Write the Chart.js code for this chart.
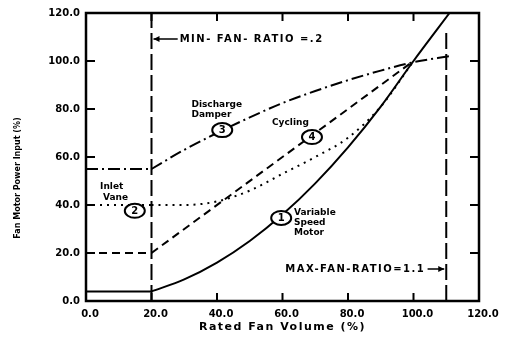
<!DOCTYPE html>
<html>
<head>
<meta charset="utf-8">
<script src="https://cdn.jsdelivr.net/npm/chart.js@4/dist/chart.umd.min.js"></script>
<style>
  html, body { margin: 0; padding: 0; background: #fff; }
</style>
</head>
<body>
<canvas id="chart" width="505" height="337"></canvas>
<script>
// fan volume (%) -> fan motor power input (%)
const lowFlowX = [0, 20];               // below MIN-FAN-RATIO every method stays at its x=20 value
const speedX   = [20, 30, 40, 50, 60, 70, 80, 90, 100, 111];
const speedY   = [4, 9, 16, 25, 36, 49, 64, 81, 100, 120];
const inletX   = [20, 30, 40, 50, 60, 70, 80, 90, 100];
const inletY   = [40, 40, 41.5, 46, 53, 60, 68, 81, 100];
const damperX  = [20, 30, 40, 50, 60, 70, 80, 90, 100, 111];
const damperY  = [55, 63, 70, 76.5, 82.5, 87.5, 92, 96, 99.5, 102];
const cyclingX = [20, 100];
const cyclingY = [20, 100];
const ratioLimits = [20, 110];          // MIN-FAN-RATIO = .2, MAX-FAN-RATIO = 1.1
const xTicks = [0, 20, 40, 60, 80, 100, 120];
const yTicks = [0, 20, 40, 60, 80, 100, 120];

const pts = (xs, ys) => xs.map((v, i) => ({ x: v, y: ys[i] }));
const flat = (ys) => lowFlowX.map(v => ({ x: v, y: ys[0] }));

const FONT = '"DejaVu Sans", sans-serif';

function series(data, dash, curved) {
    return {
        data: data,
        showLine: true,
        borderColor: '#000',
        borderWidth: 2,
        borderDash: dash,
        pointRadius: 0,
        fill: false,
        tension: curved ? 0.4 : 0,
        cubicInterpolationMode: curved ? 'monotone' : 'default'
    };
}

const datasets = [
    series(flat(speedY), [], false),
    series(pts(speedX, speedY), [], true),
    series(flat(inletY), [2, 5], false),
    series(pts(inletX, inletY), [2, 5], true),
    series(flat(damperY), [12, 4, 2, 4], false),
    series(pts(damperX, damperY), [12, 4, 2, 4], true),
    series(flat(cyclingY), [8, 5], false),
    series(pts(cyclingX, cyclingY), [8, 5], false),
    series([{ x: ratioLimits[0], y: 0 }, { x: ratioLimits[0], y: 120 }], [16, 5], false),
    series([{ x: ratioLimits[1], y: 0 }, { x: ratioLimits[1], y: 112 }], [16, 5], false)
];

// circled curve numbers and text notes, placed in data units
const callouts = [
    { n: '1', x: 59.6, y: 34.6 },
    { n: '2', x: 14.9, y: 37.6 },
    { n: '3', x: 41.6, y: 71.2 },
    { n: '4', x: 69, y: 68.3 }
];
const notes = [
    { t: 'Discharge', x: 32.2, y: 82 },
    { t: 'Damper', x: 32.2, y: 77.7 },
    { t: 'Cycling', x: 56.8, y: 74.2 },
    { t: 'Inlet', x: 4.3, y: 47.5 },
    { t: 'Vane', x: 5.2, y: 42.9 },
    { t: 'Variable', x: 63.5, y: 36.7 },
    { t: 'Speed', x: 63.5, y: 32.5 },
    { t: 'Motor', x: 63.5, y: 28.3 }
];

const decorate = {
    id: 'decorate',
    afterDraw(chart) {
        const { ctx, chartArea: a, scales: { x, y } } = chart;
        ctx.save();
        ctx.strokeStyle = '#000';
        ctx.fillStyle = '#000';
        ctx.setLineDash([]);

        // frame
        ctx.lineWidth = 2.5;
        ctx.strokeRect(a.left, a.top, a.right - a.left, a.bottom - a.top);

        // inward tick marks on all four sides
        ctx.lineWidth = 2;
        ctx.beginPath();
        xTicks.slice(1, -1).forEach(v => {
            const px = x.getPixelForValue(v);
            ctx.moveTo(px, a.bottom); ctx.lineTo(px, a.bottom - 8);
            ctx.moveTo(px, a.top); ctx.lineTo(px, a.top + 8);
        });
        yTicks.slice(1, -1).forEach(v => {
            const py = y.getPixelForValue(v);
            ctx.moveTo(a.left, py); ctx.lineTo(a.left + 9, py);
            ctx.moveTo(a.right, py); ctx.lineTo(a.right - 9, py);
        });
        ctx.stroke();

        // notes
        ctx.font = 'bold 9px ' + FONT;
        ctx.textAlign = 'left';
        ctx.textBaseline = 'middle';
        notes.forEach(n => ctx.fillText(n.t, x.getPixelForValue(n.x), y.getPixelForValue(n.y)));

        // circled numbers
        callouts.forEach(c => {
            const cx = x.getPixelForValue(c.x), cy = y.getPixelForValue(c.y);
            ctx.beginPath();
            ctx.ellipse(cx, cy, 10, 7, 0, 0, Math.PI * 2);
            ctx.fillStyle = '#fff';
            ctx.fill();
            ctx.lineWidth = 2;
            ctx.stroke();
            ctx.fillStyle = '#000';
            ctx.textAlign = 'center';
            ctx.font = 'bold 10px ' + FONT;
            ctx.fillText(c.n, cx, cy + 0.5);
        });

        // MIN / MAX fan ratio labels with arrows to the limit lines
        ctx.font = 'bold 10px ' + FONT;
        ctx.letterSpacing = '1.5px';
        const minX = x.getPixelForValue(ratioLimits[0]);
        const maxX = x.getPixelForValue(ratioLimits[1]);
        const minY = y.getPixelForValue(109.2);
        const maxY = y.getPixelForValue(13.3);
        ctx.textAlign = 'left';
        ctx.fillText('MIN- FAN- RATIO =.2', x.getPixelForValue(28.6), minY);
        ctx.textAlign = 'right';
        ctx.fillText('MAX-FAN-RATIO=1.1', x.getPixelForValue(103.6), maxY);
        ctx.letterSpacing = '0px';

        ctx.lineWidth = 1.5;
        ctx.beginPath();
        ctx.moveTo(minX + 2, minY); ctx.lineTo(x.getPixelForValue(28), minY);
        ctx.moveTo(x.getPixelForValue(104.3), maxY); ctx.lineTo(maxX - 2, maxY);
        ctx.stroke();
        ctx.beginPath();
        ctx.moveTo(minX + 2, minY); ctx.lineTo(minX + 8, minY - 3); ctx.lineTo(minX + 8, minY + 3);
        ctx.closePath();
        ctx.moveTo(maxX - 2, maxY); ctx.lineTo(maxX - 8, maxY - 3); ctx.lineTo(maxX - 8, maxY + 3);
        ctx.closePath();
        ctx.fill();

        // axis titles
        ctx.textAlign = 'center';
        ctx.font = 'bold 11px ' + FONT;
        ctx.letterSpacing = '1.5px';
        ctx.fillText('Rated Fan Volume (%)', (a.left + a.right) / 2, 327);
        ctx.letterSpacing = '0px';
        ctx.translate(18, 178);
        ctx.rotate(-Math.PI / 2);
        ctx.font = 'bold 8px ' + FONT;
        ctx.fillText('Fan Motor Power Input (%)', 0, 0);
        ctx.restore();
    }
};

new Chart(document.getElementById('chart'), {
    type: 'scatter',
    data: { datasets: datasets },
    options: {
        responsive: false,
        animation: false,
        layout: { padding: { top: 13, right: 26, left: 0, bottom: 0 } },
        plugins: { legend: { display: false }, tooltip: { enabled: false } },
        scales: {
            x: {
                type: 'linear', min: 0, max: 120,
                afterBuildTicks: s => { s.ticks = xTicks.map(v => ({ value: v })); },
                afterFit: s => { s.height = 36; },
                grid: { display: false, drawTicks: false, tickLength: 0 },
                border: { display: false },
                ticks: {
                    color: '#000', padding: 7, labelOffset: 4, maxRotation: 0,
                    font: { family: FONT, size: 10, weight: 'bold' },
                    callback: v => v.toFixed(1)
                }
            },
            y: {
                type: 'linear', min: 0, max: 120,
                afterBuildTicks: s => { s.ticks = yTicks.map(v => ({ value: v })); },
                afterFit: s => { s.width = 86; },
                grid: { display: false, drawTicks: false, tickLength: 0 },
                border: { display: false },
                ticks: {
                    color: '#000', padding: 6,
                    font: { family: FONT, size: 10, weight: 'bold' },
                    callback: v => v.toFixed(1)
                }
            }
        }
    },
    plugins: [decorate]
});
</script>
</body>
</html>
